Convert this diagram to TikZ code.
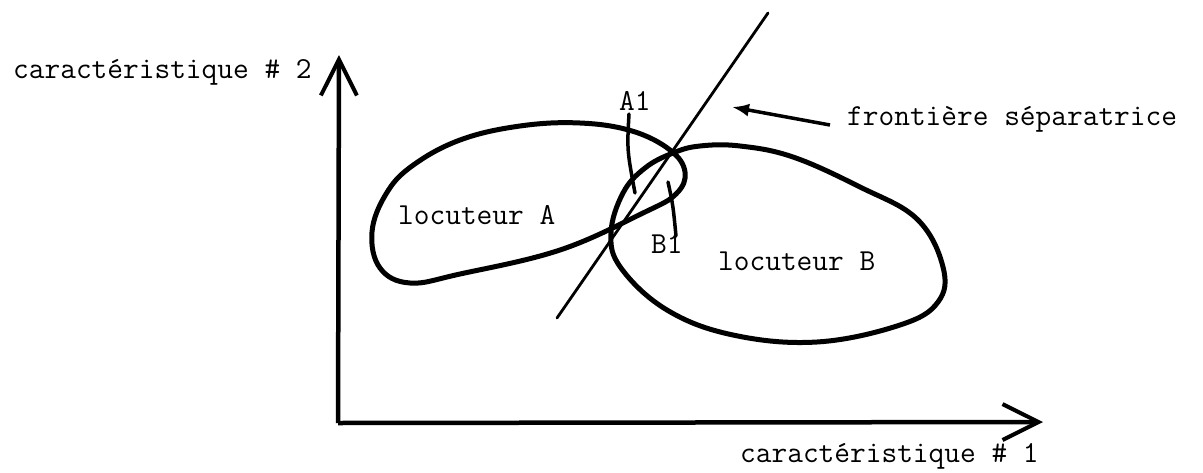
\documentclass[tikz,border=0pt]{standalone}
\usepackage{fontspec}
\usetikzlibrary{arrows.meta}
\begin{document}
\begin{tikzpicture}[x=1pt,y=-1pt,
  lbl/.style={font=\ttfamily\fontsize{30.5}{36}\selectfont, inner sep=0pt, anchor=base west},
  axis/.style={line width=4.5pt, -{Straight Barb[length=36pt,width=36pt,line width=4pt]}},
  blob/.style={line width=5pt},
  tick/.style={line width=3.5pt, line cap=round},
  sep/.style={line width=2.8pt, line cap=round},
  pointer/.style={line width=3.5pt, -{Latex[length=17pt,width=13pt]}}]
\useasboundingbox (0,0) rectangle (1203,472);
% axes
\coordinate (O) at (338,423);
\coordinate (Ytop) at (339,55);
\coordinate (Xend) at (1043,422);
\draw[axis] (O) -- (Ytop);
\draw[axis] (O) -- (Xend);
\node[lbl] (ylab) at (13,78) {caractéristique \# 2};
\node[lbl] (xlab) at (740,462) {caractéristique \# 1};
% speaker A
\draw[blob] plot[smooth cycle, tension=0.65] coordinates {
  (372,232) (386,194) (412,166) (460,140) (520,126) (580,123) (632,131)
  (670,150) (685,172) (676,194) (643,213) (560,250) (460,274) (410,283) (380,268)};
% speaker B
\draw[blob] plot[smooth cycle, tension=0.65] coordinates {
  (673,153) (700,146) (740,146) (793,157) (860,187) (917,219) (943,267)
  (938,302) (900,325) (817,342) (733,335) (667,310) (621,268) (611,233)
  (623,193) (645,168)};
% separating line
\coordinate (s1) at (557,318);
\coordinate (s2) at (768,13);
\draw[sep] (s1) -- (s2);
% labels
\node[lbl] (locA) at (398,224) {locuteur A};
\node[lbl] (locB) at (718,270) {locuteur B};
\node[lbl] (A1) at (619,110) {A1};
\node[lbl] (B1) at (651,253) {B1};
\coordinate (a1top) at (629,114);
\coordinate (a1end) at (635,193);
\coordinate (b1top) at (668,182);
\coordinate (b1end) at (676,236);
\draw[tick] (a1top) .. controls (627,150) .. (a1end);
\draw[tick] (b1top) .. controls (673,205) .. (b1end);
\node[lbl] (front) at (847,125) {frontière séparatrice};
\coordinate (ptail) at (830,125);
\coordinate (ptip) at (732,107);
\draw[pointer] (ptail) -- (ptip);
\end{tikzpicture}
\end{document}
